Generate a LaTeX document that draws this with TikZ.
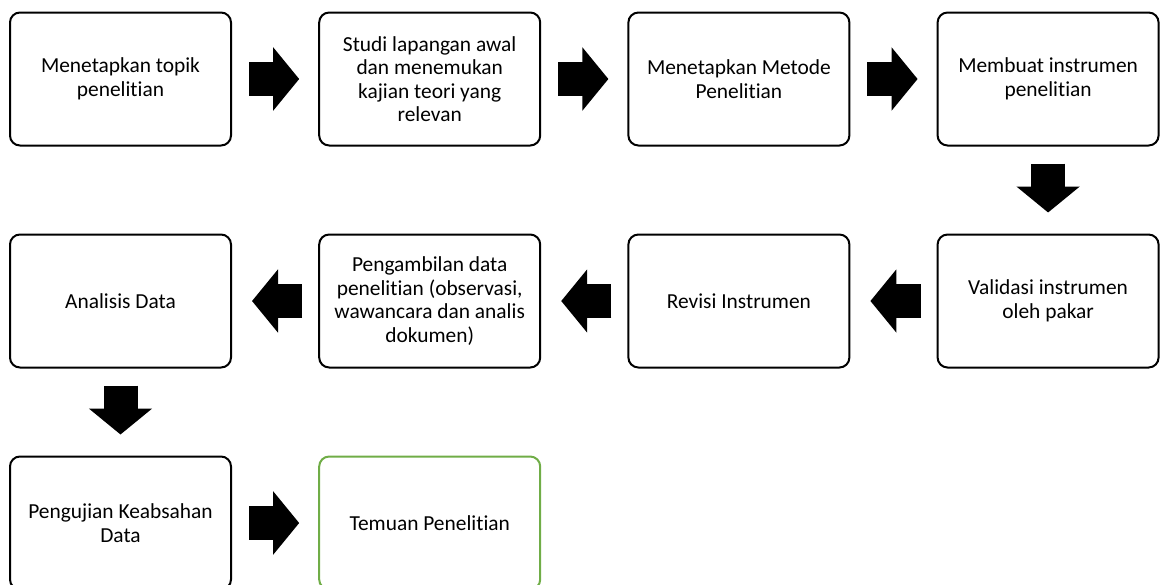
\documentclass[tikz,border=0pt]{standalone}
\usepackage{fontspec}
\setmainfont{Carlito}[Ligatures=NoCommon]
\usetikzlibrary{positioning,calc,arrows,arrows.meta}
\tikzset{font=\fontsize{21.4}{23.5}\selectfont}
\definecolor{hijau}{RGB}{112,173,71}

\begin{document}
\begin{tikzpicture}[x=1pt, y=-1pt]
	\useasboundingbox (0,0) rectangle (1161,584);
	\begin{scope}
		\tikzstyle{every node}=[align=center, inner sep=1pt]
		\tikzstyle{kotak}=[draw, line width=2pt, rounded corners=10pt, minimum width=221pt, minimum height=133pt]
		\tikzstyle{panah}=[line width=34pt, -{Triangle[length=26pt, width=62pt]}, shorten <=17pt, shorten >=19pt]
		\node[kotak] (s1) at (120.5, 79) {Menetapkan topik\\penelitian};
		\node[kotak] (s2) at (429.7, 79) {Studi lapangan awal\\dan menemukan\\kajian teori yang\\relevan};
		\node[kotak] (s3) at (738.9, 79) {Menetapkan Metode\\Penelitian};
		\node[kotak] (s4) at (1048.1, 79) {Membuat instrumen\\penelitian};
		\node[kotak] (s5) at (1048.1, 301) {Validasi instrumen\\oleh pakar};
		\node[kotak] (s6) at (738.9, 301) {Revisi Instrumen};
		\node[kotak] (s7) at (429.7, 301) {Pengambilan data\\penelitian (observasi,\\wawancara dan analis\\dokumen)};
		\node[kotak] (s8) at (120.5, 301) {Analisis Data};
		\node[kotak] (s9) at (120.5, 523) {Pengujian Keabsahan\\Data};
		\node[kotak, draw=hijau] (s10) at (429.7, 523) {Temuan Penelitian};

		\draw[panah] (s1) -- (s2);
		\draw[panah] (s2) -- (s3);
		\draw[panah] (s3) -- (s4);
		\draw[panah, shorten >=21pt] (s4) -- (s5);
		\draw[panah, shorten <=16pt, shorten >=20pt] (s5) -- (s6);
		\draw[panah, shorten <=16pt, shorten >=20pt] (s6) -- (s7);
		\draw[panah, shorten <=16pt, shorten >=20pt] (s7) -- (s8);
		\draw[panah, shorten >=21pt] (s8) -- (s9);
		\draw[panah] (s9) -- (s10);
	\end{scope}
\end{tikzpicture}
\end{document}
